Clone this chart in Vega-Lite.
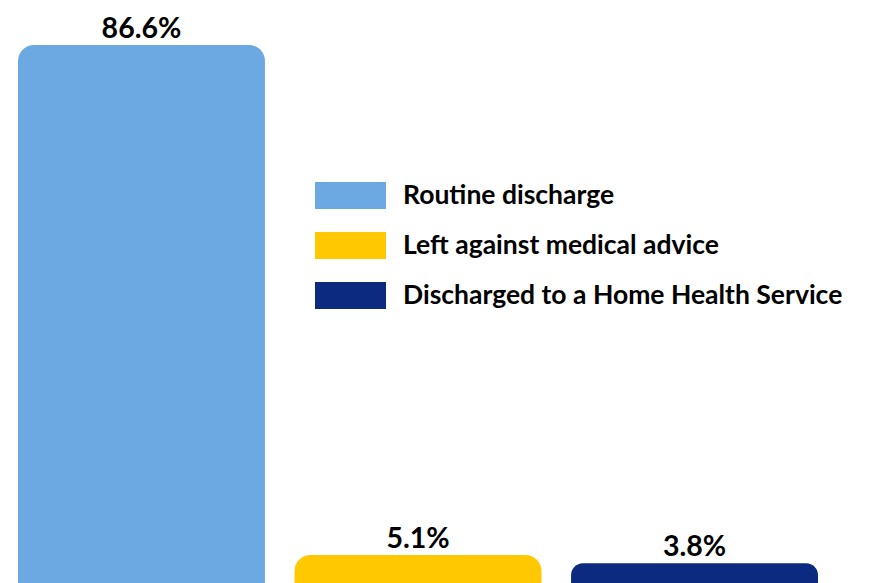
{
  "$schema": "https://vega.github.io/schema/vega-lite/v6.json",
  "width": 800,
  "height": 583,
  "padding": {"left": 18, "right": 55, "top": 0, "bottom": 0},
  "autosize": {"type": "none"},
  "background": "white",
  "config": {"view": {"stroke": null}},
  "data": {"values": [
    {"disposition": "Routine discharge", "pct": 86.6, "label": "86.6%"},
    {"disposition": "Left against medical advice", "pct": 5.1, "label": "5.1%"},
    {"disposition": "Discharged to a Home Health Service", "pct": 3.8, "label": "3.8%"}
  ]},
  "encoding": {
    "x": {"field": "disposition", "type": "nominal", "sort": null, "axis": null, "scale": {"paddingInner": 0.107, "paddingOuter": 0}},
    "y": {"field": "pct", "type": "quantitative", "axis": null, "scale": {"domain": [0.64, 93.79], "zero": false, "nice": false}}
  },
  "layer": [
    {
      "mark": {"type": "bar", "cornerRadiusTopLeft": 16, "cornerRadiusTopRight": 16, "opacity": 1},
      "encoding": {
        "y2": {"datum": 0},
        "color": {
          "field": "disposition", "type": "nominal", "sort": null,
          "scale": {"domain": ["Routine discharge", "Left against medical advice", "Discharged to a Home Health Service"], "range": ["#6CA9E2", "#FFC800", "#0B2A80"]},
          "legend": {
            "orient": "none", "legendX": 297, "legendY": 182, "title": null,
            "symbolType": "M-2.63,-1H2.63V1H-2.63Z", "symbolSize": 729, "symbolStrokeWidth": 0,
            "symbolOffset": 22, "labelOffset": 39, "symbolOpacity": 1,
            "labelFont": "Lato", "labelFontWeight": "bold", "labelFontSize": 26.5, "labelColor": "black",
            "rowPadding": 23, "padding": 0, "labelLimit": 0
          }
        }
      }
    },
    {
      "mark": {"type": "text", "baseline": "alphabetic", "dy": -7, "font": "Lato", "fontWeight": "bold", "fontSize": 28.5, "color": "black"},
      "encoding": {"text": {"field": "label"}}
    }
  ]
}
